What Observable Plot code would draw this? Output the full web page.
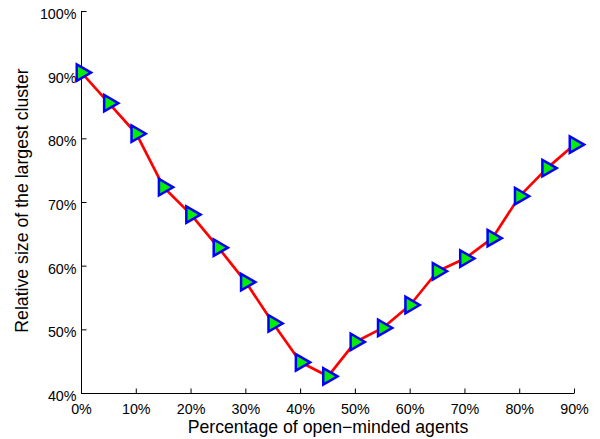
<!DOCTYPE html>
<html>
<head>
<meta charset="utf-8">
<script src="https://cdn.jsdelivr.net/npm/d3@7"></script>
<script src="https://cdn.jsdelivr.net/npm/@observablehq/plot@0.6"></script>
<style>
  html, body { margin: 0; padding: 0; background: #fff; }
  #chart svg { display: block; }
</style>
</head>
<body>
<div id="chart"></div>
<script>
// Share of open-minded agents (%) and relative size of the largest cluster (%)
const openMinded = [0, 5, 10, 15, 20, 25, 30, 35, 40, 45, 50, 55, 60, 65, 70, 75, 80, 85, 90];
const largestCluster = [90.4, 85.6, 80.8, 72.4, 68.1, 62.9, 57.5, 51.0, 44.9, 42.7, 48.1, 50.3, 53.9, 59.2, 61.2, 64.4, 71.0, 75.4, 79.1];

const xTicks = [0, 10, 20, 30, 40, 50, 60, 70, 80, 90];
const yTicks = [40, 50, 60, 70, 80, 90, 100];
const xLabel = "Percentage of open\u2212minded agents";
const yLabel = "Relative size of the largest cluster";

const points = openMinded.map((x, i) => ({x, y: largestCluster[i]}));

// Inward-pointing tick marks drawn as fixed-length symbols
const tickUp = {draw(ctx) { ctx.moveTo(0, 0); ctx.lineTo(0, -5); }};
const tickRight = {draw(ctx) { ctx.moveTo(0, 0); ctx.lineTo(5, 0); }};

const font = "'Liberation Sans', Arial, Helvetica, sans-serif";

const chart = Plot.plot({
  width: 600,
  height: 439,
  marginLeft: 81,
  marginRight: 26,
  marginTop: 11,
  marginBottom: 46,
  style: {fontFamily: font, color: "#000", background: "#fff"},
  x: {domain: [0, 90]},
  y: {domain: [40, 100]},
  marks: [
    Plot.ruleX([0], {stroke: "#000", strokeWidth: 1}),
    Plot.ruleY([40], {stroke: "#000", strokeWidth: 1}),
    Plot.dot(xTicks, {x: d => d, frameAnchor: "bottom", symbol: tickUp, stroke: "#000", strokeWidth: 1, fill: "none"}),
    Plot.dot(yTicks, {y: d => d, frameAnchor: "left", symbol: tickRight, stroke: "#000", strokeWidth: 1, fill: "none"}),
    Plot.axisX({ticks: xTicks, tickSize: 0, tickPadding: 10, tickFormat: d => d + "%", fontSize: 14.3, label: null}),
    Plot.axisY({ticks: yTicks, tickSize: 0, tickPadding: 5, dy: 3, tickFormat: d => d + "%", fontSize: 14.3, label: null}),
    Plot.text([xLabel], {frameAnchor: "bottom", dy: 27, lineAnchor: "top", fontSize: 17.7, fill: "#000"}),
    Plot.text([yLabel], {frameAnchor: "left", dx: -66, dy: -2, rotate: -90, textAnchor: "middle", lineAnchor: "top", fontSize: 17.7, fill: "#000"}),
    Plot.line(points, {x: "x", y: "y", stroke: "#ff0000", strokeWidth: 2.7}),
    Plot.dot(points, {x: "x", y: "y", symbol: "triangle", rotate: 90, r: 6.1, fill: "#00ee00", stroke: "#0000ff", strokeWidth: 2.5})
  ]
});

document.getElementById("chart").appendChild(chart);
</script>
</body>
</html>
